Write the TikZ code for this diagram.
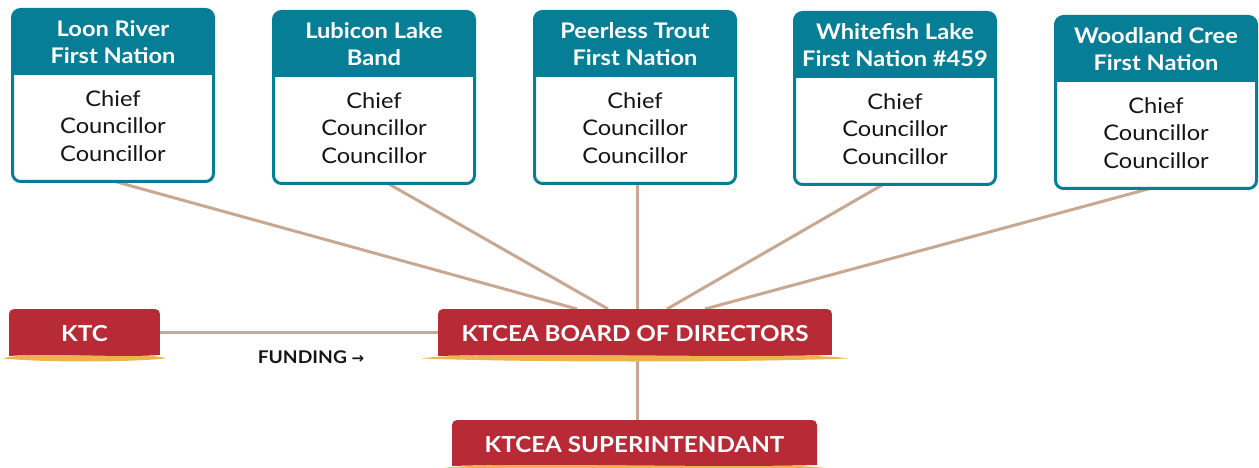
\documentclass[tikz,border=0pt]{standalone}
\usepackage{fontspec}
\setmainfont{Lato}[FakeStretch=1.1]
\newfontfamily\arrowfont{DejaVu Sans}
\definecolor{kteal}{HTML}{067E95}
\definecolor{kred}{HTML}{B72A36}
\definecolor{kgold}{HTML}{ECB44C}
\definecolor{ktan}{HTML}{C9A891}
\definecolor{ktext}{HTML}{151515}
\pgfdeclarelayer{bg}
\pgfsetlayers{bg,main}
\tikzset{
  nbox/.style={draw=kteal, line width=3pt, fill=white, rounded corners=8pt,
    minimum width=201pt, minimum height=172pt, inner sep=0pt, outer sep=0pt},
  htext/.style={text=white, font=\bfseries\fontsize{21.5}{27}\selectfont, align=center, inner sep=0pt},
  btext/.style={text=ktext, font=\fontsize{21.5}{27.5}\selectfont, align=center, inner sep=0pt},
  link/.style={draw=ktan, line width=3pt},
  btitle/.style={text=white, font=\bfseries\fontsize{22}{26}\selectfont, inner sep=0pt, outer sep=0pt},
}
\newcommand\nation[4]{%
  \node[nbox] (#1) at (#2,#3+87.5) {};
  \begin{scope}
    \clip[rounded corners=8pt] (#1.north west) rectangle (#1.south east);
    \fill[kteal] (#2-105,#3-2) rectangle (#2+105,#3+67);
  \end{scope}
  \node[htext] (#1h) at (#2,#3+34) {#4};
  \node[btext] (#1b) at (#2,#3+118) {Chief\\Councillor\\Councillor};
}
% name, x0, x1, top, bottom, tip extension, text
\newcommand\banner[7]{%
  \fill[kgold] (#2-#6,#5+3.5) .. controls (#2+10,#5-3) and (#3-10,#5-3) .. (#3+#6,#5+3.5)
     .. controls ({#3-(#3-#2)/4},#5+7.5) and ({#2+(#3-#2)/4},#5+7.5) .. cycle;
  \begin{scope}
    \clip[rounded corners=5pt] (#2,#4) rectangle (#3,#5+20);
    \fill[kred] (#2,#4-2) -- (#3,#4-2) -- (#3,#5)
      .. controls ({#2+2*(#3-#2)/3},#5+3) and ({#2+(#3-#2)/3},#5-2.5) .. (#2,#5+1) -- cycle;
  \end{scope}
  \node[minimum width={(#3-#2)*1pt}, minimum height={(#5-#4)*1pt}, inner sep=0pt, outer sep=0pt]
    (#1) at ({(#2+#3)/2},{(#4+#5)/2}) {};
  \node[btitle] (#1t) at ({(#2+#3)/2},{(#4+#5)/2+2}) {#7};
}
\begin{document}
\begin{tikzpicture}[x=1pt,y=-1pt]
\useasboundingbox (0,0) rectangle (1259,468);
\nation{n1}{113}{8}{Loon River\\First Nation}
\nation{n2}{374}{10}{Lubicon Lake\\Band}
\nation{n3}{635}{10}{Peerless Trout\\First Nation}
\nation{n4}{895}{11}{Whitefish Lake\\First Nation \#459}
\nation{n5}{1156}{15}{Woodland Cree\\First Nation}
\banner{ktc}{9}{160}{309}{355}{6}{KTC}
\banner{board}{438}{832}{309}{355}{16}{KTCEA BOARD OF DIRECTORS}
\banner{super}{452}{817}{420}{465}{10}{KTCEA SUPERINTENDANT}
\node[font=\bfseries\fontsize{17.5}{20}\selectfont, text=ktext, inner sep=0pt] (fund) at (311,357)
  {FUNDING {\arrowfont\bfseries\fontsize{15}{16}\selectfont→}};
\begin{pgfonlayer}{bg}
  \draw[link] ([xshift=2pt]n1.south) -- ([xshift=-58pt]board.north);
  \draw[link] ([xshift=14pt]n2.south) -- ([xshift=-27pt]board.north);
  \draw[link] ([xshift=2pt]n3.south) -- ([xshift=2pt]board.north);
  \draw[link] ([xshift=-12pt]n4.south) -- ([xshift=32pt]board.north);
  \draw[link] ([xshift=-6pt]n5.south) -- ([xshift=70pt]board.north);
  \draw[link] (ktc.east) -- (board.west);
  \draw[link] ([xshift=2pt]board.south) -- ([xshift=2.5pt]super.north);
\end{pgfonlayer}
\end{tikzpicture}
\end{document}
